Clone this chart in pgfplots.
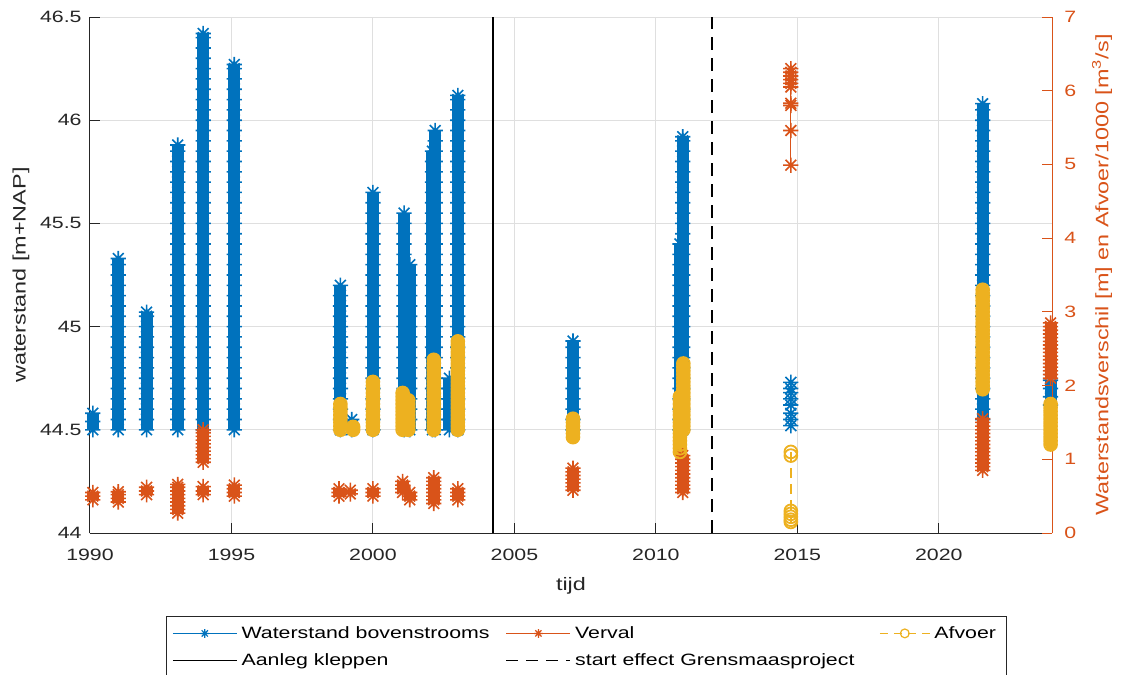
\documentclass[border=0pt]{standalone}
\usepackage{fontspec}
\setmainfont{Liberation Sans}[FakeStretch=1.3]
\usepackage{pgfplots}
\pgfplotsset{compat=1.18}

\definecolor{mblue}{RGB}{0,114,189}
\definecolor{morange}{RGB}{217,83,25}
\definecolor{myellow}{RGB}{237,177,32}
\definecolor{axgray}{RGB}{38,38,38}
\definecolor{gridgray}{RGB}{223,223,223}

% MATLAB-like 8-armed asterisk
\pgfdeclareplotmark{mstar}{%
  \pgfpathmoveto{\pgfqpoint{-\pgfplotmarksize}{0pt}}\pgfpathlineto{\pgfqpoint{\pgfplotmarksize}{0pt}}%
  \pgfpathmoveto{\pgfqpoint{0pt}{-\pgfplotmarksize}}\pgfpathlineto{\pgfqpoint{0pt}{\pgfplotmarksize}}%
  \pgfpathmoveto{\pgfqpoint{-.707\pgfplotmarksize}{-.707\pgfplotmarksize}}\pgfpathlineto{\pgfqpoint{.707\pgfplotmarksize}{.707\pgfplotmarksize}}%
  \pgfpathmoveto{\pgfqpoint{-.707\pgfplotmarksize}{.707\pgfplotmarksize}}\pgfpathlineto{\pgfqpoint{.707\pgfplotmarksize}{-.707\pgfplotmarksize}}%
  \pgfusepathqstroke}

\pgfplotsset{
  twin/.style={scale only axis, width=481bp, height=258bp,
    xmin=1990, xmax=2024, clip=false,
    tick align=inside, major tick length=5bp,
    unbounded coords=jump,
    /pgf/number format/assume math mode=true,
    /pgf/number format/1000 sep={},
    tick label style={font=\fontsize{8.2bp}{10bp}\selectfont},
    label style={font=\fontsize{9bp}{11bp}\selectfont}},
  % dense daily series: stars so close they merge into a band
  wblue/.style={mblue, line width=6bp, mark=mstar, mark size=3.8bp, mark options={line width=0.8bp}},
  worange/.style={morange, line width=6bp, mark=mstar, mark size=3.8bp, mark options={line width=0.8bp}},
  wyellow/.style={myellow, line width=6bp, line cap=round, mark=o, mark size=3.2bp, mark options={line width=0.9bp}},
  thinline/.style={line width=0.6bp},
  shortleg/.style={legend image code/.code={\draw[mark repeat=2,mark phase=2,##1] plot coordinates {(0bp,0bp) (12.5bp,0bp) (25bp,0bp)};}},
}

\begin{document}
\begin{tikzpicture}
\begin{axis}[twin, name=ax,
  ymin=44, ymax=46.5,
  axis x line*=bottom, axis y line*=left,
  axis line style={axgray, line width=0.5bp},
  xtick={1990,1995,2000,2005,2010,2015,2020},
  ytick={44,44.5,45,45.5,46,46.5},
  grid=major, major grid style={gridgray, line width=0.5bp},
  tick style={axgray, line width=0.5bp},
  tick label style={axgray},
  xticklabel style={anchor=north, inner sep=0pt, yshift=-8bp},
  yticklabel style={anchor=east, inner sep=0pt, xshift=-4bp},
  xlabel={tijd}, ylabel={waterstand [m+NAP]},
  xlabel style={axgray, at={(axis description cs:0.5,-0.1027)}, anchor=center},
  ylabel style={axgray, at={(axis description cs:-0.0717,0.5)}, anchor=center},
]
% Waterstand bovenstrooms
\addplot[wblue] coordinates {
(1990.1,44.50)(1990.1,44.54)(1990.1,44.58)(1990.1,nan)
(1991,44.50)(1991,44.55)(1991,44.60)(1991,44.65)(1991,44.70)(1991,44.75)(1991,44.80)(1991,44.85)(1991,44.90)(1991,44.95)(1991,45.00)(1991,45.05)(1991,45.10)(1991,45.15)(1991,45.20)(1991,45.25)(1991,45.30)(1991,45.33)(1991,nan)
(1992,44.50)(1992,44.55)(1992,44.60)(1992,44.65)(1992,44.70)(1992,44.75)(1992,44.80)(1992,44.85)(1992,44.90)(1992,44.95)(1992,45.00)(1992,45.05)(1992,45.07)(1992,nan)
(1993.1,44.50)(1993.1,44.55)(1993.1,44.60)(1993.1,44.65)(1993.1,44.70)(1993.1,44.75)(1993.1,44.80)(1993.1,44.85)(1993.1,44.90)(1993.1,44.95)(1993.1,45.00)(1993.1,45.05)(1993.1,45.10)(1993.1,45.15)(1993.1,45.20)(1993.1,45.25)(1993.1,45.30)(1993.1,45.35)(1993.1,45.40)(1993.1,45.45)(1993.1,45.50)(1993.1,45.55)(1993.1,45.60)(1993.1,45.65)(1993.1,45.70)(1993.1,45.75)(1993.1,45.80)(1993.1,45.85)(1993.1,45.88)(1993.1,nan)
(1994,44.50)(1994,44.55)(1994,44.60)(1994,44.65)(1994,44.70)(1994,44.75)(1994,44.80)(1994,44.85)(1994,44.90)(1994,44.95)(1994,45.00)(1994,45.05)(1994,45.10)(1994,45.15)(1994,45.20)(1994,45.25)(1994,45.30)(1994,45.35)(1994,45.40)(1994,45.45)(1994,45.50)(1994,45.55)(1994,45.60)(1994,45.65)(1994,45.70)(1994,45.75)(1994,45.80)(1994,45.85)(1994,45.90)(1994,45.95)(1994,46.00)(1994,46.05)(1994,46.10)(1994,46.15)(1994,46.20)(1994,46.25)(1994,46.30)(1994,46.35)(1994,46.40)(1994,46.42)(1994,nan)
(1995.1,44.50)(1995.1,44.55)(1995.1,44.60)(1995.1,44.65)(1995.1,44.70)(1995.1,44.75)(1995.1,44.80)(1995.1,44.85)(1995.1,44.90)(1995.1,44.95)(1995.1,45.00)(1995.1,45.05)(1995.1,45.10)(1995.1,45.15)(1995.1,45.20)(1995.1,45.25)(1995.1,45.30)(1995.1,45.35)(1995.1,45.40)(1995.1,45.45)(1995.1,45.50)(1995.1,45.55)(1995.1,45.60)(1995.1,45.65)(1995.1,45.70)(1995.1,45.75)(1995.1,45.80)(1995.1,45.85)(1995.1,45.90)(1995.1,45.95)(1995.1,46.00)(1995.1,46.05)(1995.1,46.10)(1995.1,46.15)(1995.1,46.20)(1995.1,46.25)(1995.1,46.27)(1995.1,nan)
(1998.85,44.50)(1998.85,44.55)(1998.85,44.60)(1998.85,44.65)(1998.85,44.70)(1998.85,44.75)(1998.85,44.80)(1998.85,44.85)(1998.85,44.90)(1998.85,44.95)(1998.85,45.00)(1998.85,45.05)(1998.85,45.10)(1998.85,45.15)(1998.85,45.20)(1998.85,nan)
(1999.25,44.50)(1999.25,44.55)(1999.25,nan)
(2000,44.50)(2000,44.55)(2000,44.60)(2000,44.65)(2000,44.70)(2000,44.75)(2000,44.80)(2000,44.85)(2000,44.90)(2000,44.95)(2000,45.00)(2000,45.05)(2000,45.10)(2000,45.15)(2000,45.20)(2000,45.25)(2000,45.30)(2000,45.35)(2000,45.40)(2000,45.45)(2000,45.50)(2000,45.55)(2000,45.60)(2000,45.65)(2000,nan)
(2001.1,44.50)(2001.1,44.55)(2001.1,44.60)(2001.1,44.65)(2001.1,44.70)(2001.1,44.75)(2001.1,44.80)(2001.1,44.85)(2001.1,44.90)(2001.1,44.95)(2001.1,45.00)(2001.1,45.05)(2001.1,45.10)(2001.1,45.15)(2001.1,45.20)(2001.1,45.25)(2001.1,45.30)(2001.1,45.35)(2001.1,45.40)(2001.1,45.45)(2001.1,45.50)(2001.1,45.55)(2001.1,nan)
(2001.3,44.50)(2001.3,44.55)(2001.3,44.60)(2001.3,44.65)(2001.3,44.70)(2001.3,44.75)(2001.3,44.80)(2001.3,44.85)(2001.3,44.90)(2001.3,44.95)(2001.3,45.00)(2001.3,45.05)(2001.3,45.10)(2001.3,45.15)(2001.3,45.20)(2001.3,45.25)(2001.3,45.30)(2001.3,nan)
(2002.1,44.50)(2002.1,44.55)(2002.1,44.60)(2002.1,44.65)(2002.1,44.70)(2002.1,44.75)(2002.1,44.80)(2002.1,44.85)(2002.1,44.90)(2002.1,44.95)(2002.1,45.00)(2002.1,45.05)(2002.1,45.10)(2002.1,45.15)(2002.1,45.20)(2002.1,45.25)(2002.1,45.30)(2002.1,45.35)(2002.1,45.40)(2002.1,45.45)(2002.1,45.50)(2002.1,45.55)(2002.1,45.60)(2002.1,45.65)(2002.1,45.70)(2002.1,45.75)(2002.1,45.80)(2002.1,45.85)(2002.1,nan)
(2002.2,44.50)(2002.2,44.55)(2002.2,44.60)(2002.2,44.65)(2002.2,44.70)(2002.2,44.75)(2002.2,44.80)(2002.2,44.85)(2002.2,44.90)(2002.2,44.95)(2002.2,45.00)(2002.2,45.05)(2002.2,45.10)(2002.2,45.15)(2002.2,45.20)(2002.2,45.25)(2002.2,45.30)(2002.2,45.35)(2002.2,45.40)(2002.2,45.45)(2002.2,45.50)(2002.2,45.55)(2002.2,45.60)(2002.2,45.65)(2002.2,45.70)(2002.2,45.75)(2002.2,45.80)(2002.2,45.85)(2002.2,45.90)(2002.2,45.95)(2002.2,nan)
(2002.7,44.50)(2002.7,44.55)(2002.7,44.60)(2002.7,44.65)(2002.7,44.70)(2002.7,44.75)(2002.7,nan)
(2003,44.50)(2003,44.55)(2003,44.60)(2003,44.65)(2003,44.70)(2003,44.75)(2003,44.80)(2003,44.85)(2003,44.90)(2003,44.95)(2003,45.00)(2003,45.05)(2003,45.10)(2003,45.15)(2003,45.20)(2003,45.25)(2003,45.30)(2003,45.35)(2003,45.40)(2003,45.45)(2003,45.50)(2003,45.55)(2003,45.60)(2003,45.65)(2003,45.70)(2003,45.75)(2003,45.80)(2003,45.85)(2003,45.90)(2003,45.95)(2003,46.00)(2003,46.05)(2003,46.10)(2003,46.12)(2003,nan)
(2007.07,44.50)(2007.07,44.55)(2007.07,44.60)(2007.07,44.65)(2007.07,44.70)(2007.07,44.75)(2007.07,44.80)(2007.07,44.85)(2007.07,44.90)(2007.07,44.93)(2007.07,nan)
(2010.85,44.50)(2010.85,44.55)(2010.85,44.60)(2010.85,44.65)(2010.85,44.70)(2010.85,44.75)(2010.85,44.80)(2010.85,44.85)(2010.85,44.90)(2010.85,44.95)(2010.85,45.00)(2010.85,45.05)(2010.85,45.10)(2010.85,45.15)(2010.85,45.20)(2010.85,45.25)(2010.85,45.30)(2010.85,45.35)(2010.85,45.40)(2010.85,nan)
(2010.95,44.50)(2010.95,44.55)(2010.95,44.60)(2010.95,44.65)(2010.95,44.70)(2010.95,44.75)(2010.95,44.80)(2010.95,44.85)(2010.95,44.90)(2010.95,44.95)(2010.95,45.00)(2010.95,45.05)(2010.95,45.10)(2010.95,45.15)(2010.95,45.20)(2010.95,45.25)(2010.95,45.30)(2010.95,45.35)(2010.95,45.40)(2010.95,45.45)(2010.95,45.50)(2010.95,45.55)(2010.95,45.60)(2010.95,45.65)(2010.95,45.70)(2010.95,45.75)(2010.95,45.80)(2010.95,45.85)(2010.95,45.90)(2010.95,45.92)(2010.95,nan)
(2021.55,44.55)(2021.55,44.60)(2021.55,44.65)(2021.55,44.70)(2021.55,44.75)(2021.55,44.80)(2021.55,44.85)(2021.55,44.90)(2021.55,44.95)(2021.55,45.00)(2021.55,45.05)(2021.55,45.10)(2021.55,45.15)(2021.55,45.20)(2021.55,45.25)(2021.55,45.30)(2021.55,45.35)(2021.55,45.40)(2021.55,45.45)(2021.55,45.50)(2021.55,45.55)(2021.55,45.60)(2021.55,45.65)(2021.55,45.70)(2021.55,45.75)(2021.55,45.80)(2021.55,45.85)(2021.55,45.90)(2021.55,45.95)(2021.55,46.00)(2021.55,46.05)(2021.55,46.08)(2021.55,nan)
(2023.95,44.62)(2023.95,44.66)(2023.95,44.70)(2023.95,44.74)
};
% 2014: sparse points, thin connecting line
\addplot[wblue, thinline] coordinates {
(2014.77,44.52)(2014.77,44.55)(2014.77,44.58)(2014.77,44.62)(2014.77,44.65)(2014.77,44.68)(2014.77,44.70)(2014.77,44.73)
};
\end{axis}

\begin{axis}[twin,
  ymin=0, ymax=7,
  axis x line=none, axis y line*=right,
  axis line style={morange, line width=0.5bp},
  ytick={0,1,2,3,4,5,6,7},
  tick style={morange, line width=0.5bp},
  yticklabel style={morange, anchor=west, inner sep=0pt, xshift=6bp},
  ylabel={Waterstandsverschil [m] en Afvoer/1000 [m\textsuperscript{3}/s]},
  ylabel style={morange, at={(axis description cs:1.052,0.5)}, anchor=center},
  legend columns=3, legend cell align=left,
  legend image code/.code={\draw[mark repeat=2,mark phase=2,#1] plot coordinates {(0bp,0bp) (16bp,0bp) (32bp,0bp)};},
  legend style={at={(axis description cs:0,0)}, anchor=north west,
    xshift=37.75bp, yshift=-41.5bp,
    draw=axgray, line width=0.5bp, fill=white,
    inner xsep=3bp, inner ysep=3.6bp, row sep=3.8bp, column sep=0pt,
    font=\fontsize{8.2bp}{10bp}\selectfont,
    nodes={inner xsep=2bp, inner ysep=1bp, text height=6.2bp, text depth=1.5bp}},
]
\addlegendimage{mblue, line width=0.6bp, mark=mstar, mark size=2.2bp}
\addlegendentry{\makebox[130bp][l]{Waterstand bovenstrooms}}
\addlegendimage{morange, line width=0.6bp, mark=mstar, mark size=2.2bp}
\addlegendentry{\makebox[150bp][l]{Verval}}
\addlegendimage{myellow, line width=0.6bp, dash pattern=on 4bp off 3bp, mark=o, mark size=2.2bp, mark options={solid}, shortleg}
\addlegendentry{Afvoer}
\addlegendimage{black, line width=0.8bp}
\addlegendentry{Aanleg kleppen}
\addlegendimage{black, line width=0.8bp, dash pattern=on 6bp off 4bp}
\addlegendentry{start effect Grensmaasproject}
% Verval
\addplot[worange, forget plot] coordinates {
(1990.1,0.45)(1990.1,0.50)(1990.1,0.55)(1990.1,nan)
(1991,0.42)(1991,0.47)(1991,0.52)(1991,0.56)(1991,nan)
(1992,0.52)(1992,0.57)(1992,0.62)(1992,nan)
(1993.1,0.27)(1993.1,0.32)(1993.1,0.37)(1993.1,0.42)(1993.1,0.47)(1993.1,0.52)(1993.1,0.57)(1993.1,0.62)(1993.1,0.66)(1993.1,nan)
(1994,0.52)(1994,0.57)(1994,0.63)(1994,nan)
(1994,0.96)(1994,1.01)(1994,1.06)(1994,1.11)(1994,1.16)(1994,1.21)(1994,1.26)(1994,1.31)(1994,1.36)(1994,1.40)(1994,nan)
(1995.1,0.50)(1995.1,0.55)(1995.1,0.60)(1995.1,0.65)(1995.1,nan)
(1998.8,0.50)(1998.8,0.55)(1998.8,0.60)(1998.8,nan)
(1999.2,0.53)(1999.2,0.58)(1999.2,nan)
(2000,0.50)(2000,0.55)(2000,0.60)(2000,nan)
(2001.05,0.55)(2001.05,0.60)(2001.05,0.65)(2001.05,0.70)(2001.05,nan)
(2001.3,0.45)(2001.3,0.50)(2001.3,0.55)(2001.3,nan)
(2002.15,0.40)(2002.15,0.45)(2002.15,0.50)(2002.15,0.55)(2002.15,0.60)(2002.15,0.65)(2002.15,0.70)(2002.15,0.75)(2002.15,nan)
(2003,0.45)(2003,0.50)(2003,0.55)(2003,0.60)(2003,nan)
(2007.07,0.58)(2007.07,0.63)(2007.07,0.68)(2007.07,0.73)(2007.07,0.78)(2007.07,0.83)(2007.07,0.88)(2007.07,nan)
(2010.95,0.55)(2010.95,0.60)(2010.95,0.65)(2010.95,0.70)(2010.95,0.75)(2010.95,0.80)(2010.95,0.85)(2010.95,0.90)(2010.95,0.95)(2010.95,1.00)(2010.95,1.05)(2010.95,nan)
(2021.55,0.85)(2021.55,0.90)(2021.55,0.95)(2021.55,1.00)(2021.55,1.05)(2021.55,1.10)(2021.55,1.15)(2021.55,1.20)(2021.55,1.25)(2021.55,1.30)(2021.55,1.35)(2021.55,1.40)(2021.55,1.45)(2021.55,1.50)(2021.55,1.55)(2021.55,nan)
(2023.95,2.10)(2023.95,2.15)(2023.95,2.20)(2023.95,2.25)(2023.95,2.30)(2023.95,2.35)(2023.95,2.40)(2023.95,2.45)(2023.95,2.50)(2023.95,2.55)(2023.95,2.60)(2023.95,2.65)(2023.95,2.70)(2023.95,2.75)(2023.95,2.80)(2023.95,2.85)
};
\addplot[worange, thinline, forget plot] coordinates {
(2014.77,4.99)(2014.77,5.46)(2014.77,5.80)(2014.77,5.83)(2014.77,6.05)(2014.77,6.10)(2014.77,6.15)(2014.77,6.20)(2014.77,6.25)(2014.77,6.30)
};
% Afvoer/1000
\addplot[wyellow, forget plot] coordinates {
(1998.85,1.40)(1998.85,1.45)(1998.85,1.50)(1998.85,1.55)(1998.85,1.60)(1998.85,1.65)(1998.85,1.70)(1998.85,1.75)(1998.85,nan)
(1999.3,1.40)(1999.3,1.44)(1999.3,nan)
(2000,1.40)(2000,1.45)(2000,1.50)(2000,1.55)(2000,1.60)(2000,1.65)(2000,1.70)(2000,1.75)(2000,1.80)(2000,1.85)(2000,1.90)(2000,1.95)(2000,2.00)(2000,2.05)(2000,nan)
(2001.05,1.40)(2001.05,1.45)(2001.05,1.50)(2001.05,1.55)(2001.05,1.60)(2001.05,1.65)(2001.05,1.70)(2001.05,1.75)(2001.05,1.80)(2001.05,1.85)(2001.05,1.90)(2001.05,nan)
(2001.25,1.40)(2001.25,1.45)(2001.25,1.50)(2001.25,1.55)(2001.25,1.60)(2001.25,1.65)(2001.25,1.70)(2001.25,1.75)(2001.25,1.80)(2001.25,nan)
(2002.15,1.40)(2002.15,1.45)(2002.15,1.50)(2002.15,1.55)(2002.15,1.60)(2002.15,1.65)(2002.15,1.70)(2002.15,1.75)(2002.15,1.80)(2002.15,1.85)(2002.15,1.90)(2002.15,1.95)(2002.15,2.00)(2002.15,2.05)(2002.15,2.10)(2002.15,2.15)(2002.15,2.20)(2002.15,2.25)(2002.15,2.30)(2002.15,2.35)(2002.15,nan)
(2003,1.40)(2003,1.45)(2003,1.50)(2003,1.55)(2003,1.60)(2003,1.65)(2003,1.70)(2003,1.75)(2003,1.80)(2003,1.85)(2003,1.90)(2003,1.95)(2003,2.00)(2003,2.05)(2003,2.10)(2003,2.15)(2003,2.20)(2003,2.25)(2003,2.30)(2003,2.35)(2003,2.40)(2003,2.45)(2003,2.50)(2003,2.55)(2003,2.60)(2003,nan)
(2007.07,1.30)(2007.07,1.35)(2007.07,1.40)(2007.07,1.45)(2007.07,1.50)(2007.07,1.55)(2007.07,nan)
(2010.85,1.10)(2010.85,1.15)(2010.85,1.20)(2010.85,1.25)(2010.85,1.30)(2010.85,1.35)(2010.85,1.40)(2010.85,1.45)(2010.85,1.50)(2010.85,1.55)(2010.85,1.60)(2010.85,1.65)(2010.85,1.70)(2010.85,1.75)(2010.85,1.80)(2010.85,1.85)(2010.85,nan)
(2010.97,1.40)(2010.97,1.45)(2010.97,1.50)(2010.97,1.55)(2010.97,1.60)(2010.97,1.65)(2010.97,1.70)(2010.97,1.75)(2010.97,1.80)(2010.97,1.85)(2010.97,1.90)(2010.97,1.95)(2010.97,2.00)(2010.97,2.05)(2010.97,2.10)(2010.97,2.15)(2010.97,2.20)(2010.97,2.25)(2010.97,2.30)(2010.97,nan)
(2021.55,1.95)(2021.55,2.00)(2021.55,2.05)(2021.55,2.10)(2021.55,2.15)(2021.55,2.20)(2021.55,2.25)(2021.55,2.30)(2021.55,2.35)(2021.55,2.40)(2021.55,2.45)(2021.55,2.50)(2021.55,2.55)(2021.55,2.60)(2021.55,2.65)(2021.55,2.70)(2021.55,2.75)(2021.55,2.80)(2021.55,2.85)(2021.55,2.90)(2021.55,2.95)(2021.55,3.00)(2021.55,3.05)(2021.55,3.10)(2021.55,3.15)(2021.55,3.20)(2021.55,3.25)(2021.55,3.30)(2021.55,nan)
(2023.95,1.20)(2023.95,1.25)(2023.95,1.30)(2023.95,1.35)(2023.95,1.40)(2023.95,1.45)(2023.95,1.50)(2023.95,1.55)(2023.95,1.60)(2023.95,1.65)(2023.95,1.70)(2023.95,1.75)
};
\addplot[myellow, line width=0.9bp, dash pattern=on 5bp off 3bp, mark=o, mark size=3.2bp, mark options={solid}, forget plot] coordinates {
(2014.77,1.10)(2014.77,1.05)(2014.77,0.30)(2014.77,0.26)(2014.77,0.22)(2014.77,0.18)(2014.77,0.15)
};
% Aanleg kleppen / start effect Grensmaasproject
\addplot[black, line width=1bp, forget plot] coordinates {(2004.24,0) (2004.24,7)};
\addplot[black, line width=1bp, dash pattern=on 6.5bp off 4bp, forget plot] coordinates {(2012,0) (2012,7)};
\end{axis}
\pgfresetboundingbox
\path[use as bounding box] ([shift={(-45bp,-71bp)}]ax.south west) rectangle ([shift={(519bp,266.5bp)}]ax.south west);
\end{tikzpicture}
\end{document}
